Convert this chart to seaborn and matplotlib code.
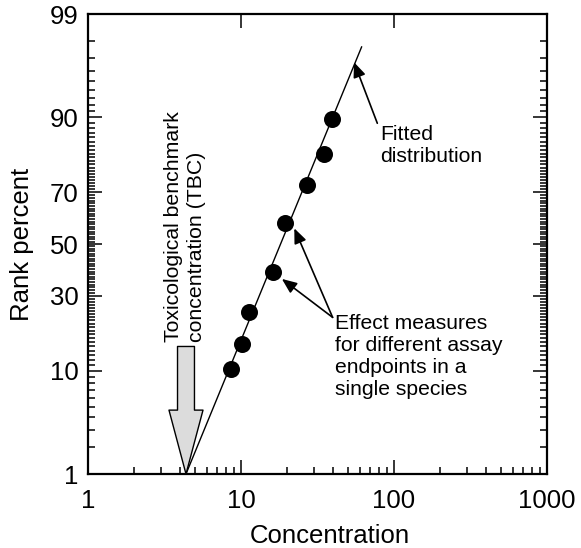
import numpy as np
import pandas as pd
import matplotlib
matplotlib.use("Agg")
import matplotlib.pyplot as plt
import seaborn as sns
from statistics import NormalDist

# Effect measures (concentration, rank percent)
conc = [8.6, 10.1, 11.3, 16.1, 19.4, 26.9, 34.9, 39.2]
rank_pct = [10.3, 15.6, 24.7, 39.0, 58.5, 72.5, 81.9, 89.7]

# Fitted distribution end points
fit_conc = [4.37, 61.5]
fit_pct = [1.0, 97.7]

tbc = 4.37

x_major = [1, 10, 100, 1000]
y_major = [1, 10, 30, 50, 70, 90, 99]

_nd = NormalDist()


def pct_to_z(p):
    p = np.clip(np.asarray(p, dtype=float), 1e-6, 100 - 1e-6)
    return np.vectorize(lambda v: _nd.inv_cdf(v / 100.0), otypes=[float])(p)


def z_to_pct(z):
    z = np.asarray(z, dtype=float)
    return np.vectorize(lambda v: _nd.cdf(v) * 100.0, otypes=[float])(z)


sns.set_style("ticks")
plt.rcParams["font.family"] = ["Liberation Sans", "DejaVu Sans"]
plt.rcParams.update({"text.color": "black", "axes.labelcolor": "black",
                     "xtick.color": "black", "ytick.color": "black"})

fig = plt.figure(figsize=(5.81, 5.48), dpi=100)
ax = fig.add_axes([88 / 581, 1 - 474 / 548, (547 - 88) / 581, (474 - 14) / 548])

ax.set_xscale("log")
ax.set_yscale("function", functions=(pct_to_z, z_to_pct))
ax.set_xlim(1, 1000)
ax.set_ylim(1, 99)

pts = pd.DataFrame({"Concentration": conc, "Rank percent": rank_pct})
fit = pd.DataFrame({"Concentration": fit_conc, "Rank percent": fit_pct})

sns.lineplot(data=fit, x="Concentration", y="Rank percent", color="black",
             linewidth=1.0, ax=ax, sort=False)
sns.scatterplot(data=pts, x="Concentration", y="Rank percent", color="black",
                s=150, edgecolor="black", linewidth=0, ax=ax, zorder=5)

# ticks
ax.set_xticks(x_major)
ax.set_xticklabels([str(v) for v in x_major])
x_minor = [m * d for d in (1, 10, 100) for m in range(2, 10)]
ax.set_xticks(x_minor, minor=True)
ax.set_yticks(y_major)
ax.set_yticklabels([str(v) for v in y_major])
y_minor = [v for v in range(2, 99) if v not in y_major]
ax.set_yticks(y_minor, minor=True)

ax.tick_params(which="both", direction="in", top=True, right=True, width=1.1, color="black")
ax.tick_params(which="major", length=10)
ax.tick_params(which="minor", length=5)
ax.tick_params(axis="x", which="minor", top=False)
ax.tick_params(axis="x", which="major", labelsize=18.5, pad=11)
ax.tick_params(axis="y", which="major", labelsize=18.5, pad=7)
for s in ax.spines.values():
    s.set_linewidth(1.6)
    s.set_color("black")

ax.set_xlabel("Concentration", fontsize=18.5)
ax.set_ylabel("Rank percent", fontsize=18.5)
ax.xaxis.set_label_coords((330 - 88) / 459, -(524 - 474) / 460)
ax.yaxis.set_label_coords(-(88 - 34) / 459, 0.5)

# TBC block arrow
ax.annotate("", xy=(tbc, 1.0), xytext=(tbc, 15.0),
            arrowprops=dict(arrowstyle="simple,head_length=46,head_width=24.5,tail_width=12.2",
                            mutation_scale=1, fc="#dcdcdc", ec="black", lw=1.0,
                            shrinkA=0, shrinkB=0), zorder=3)
ax.text(4.3, 16.1, "Toxicological benchmark\nconcentration (TBC)", rotation=90,
        ha="center", va="bottom", multialignment="left", fontsize=15.3, linespacing=1.3)

arrow_kw = dict(arrowstyle="-|>,head_length=0.6,head_width=0.25", mutation_scale=15,
                color="black", lw=1.2, shrinkA=0, shrinkB=0)
ax.annotate("", xy=(54.8, 96.7), xytext=(77.8, 88.9), arrowprops=arrow_kw)
ax.text(81, 88.6, "Fitted\ndistribution", ha="left", va="top", fontsize=15.2, linespacing=1.2)

ax.annotate("", xy=(18.5, 36.2), xytext=(39.7, 22.9), arrowprops=arrow_kw)
ax.annotate("", xy=(22.3, 56.3), xytext=(39.7, 22.9), arrowprops=arrow_kw)
ax.text(41, 24, "Effect measures\nfor different assay\nendpoints in a\nsingle species",
        ha="left", va="top", fontsize=15.2, linespacing=1.2)

fig.savefig("out.png", dpi=100)
